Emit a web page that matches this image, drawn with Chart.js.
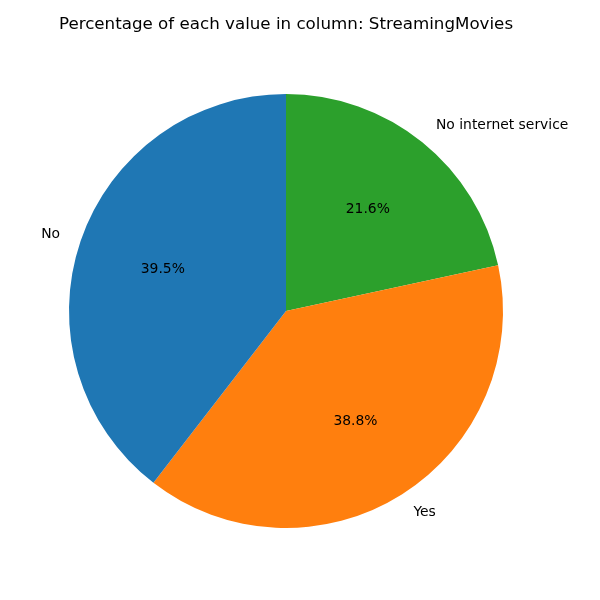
<!DOCTYPE html>
<html>
<head>
<meta charset="utf-8">
<script src="https://cdn.jsdelivr.net/npm/chart.js@4"></script>
<style>
  html, body { margin: 0; padding: 0; background: #fff; }
</style>
</head>
<body>
<canvas id="pie" width="600" height="600"></canvas>
<script>
// slices listed clockwise from 12 o'clock (matplotlib drew them counter-clockwise)
const categories = ["No internet service", "Yes", "No"];
const percents = [21.6, 38.8, 39.5];
const sliceColors = ["#2ca02c", "#ff7f0e", "#1f77b4"];
const chartTitle = "Percentage of each value in column: StreamingMovies";

const FONT = "'DejaVu Sans', sans-serif";

const pieText = {
  id: "pieText",
  afterDatasetsDraw(chart) {
    const ctx = chart.ctx;
    const meta = chart.getDatasetMeta(0);
    const total = percents.reduce((a, b) => a + b, 0);
    ctx.save();
    ctx.fillStyle = "#000";
    meta.data.forEach((arc, i) => {
      const mid = (arc.startAngle + arc.endAngle) / 2;
      const r = arc.outerRadius;
      const c = Math.cos(mid), s = Math.sin(mid);
      // category label at 1.1 r
      ctx.font = "13.9px " + FONT;
      ctx.textBaseline = "middle";
      ctx.textAlign = c > 0 ? "left" : "right";
      ctx.fillText(categories[i], arc.x + 1.1 * r * c, arc.y + 1.1 * r * s);
      // percentage at 0.6 r
      ctx.textAlign = "center";
      const pct = (percents[i] / total * 100).toFixed(1) + "%";
      ctx.fillText(pct, arc.x + 0.6 * r * c, arc.y + 0.6 * r * s);
    });
    // title
    ctx.font = "16.7px " + FONT;
    ctx.textAlign = "center";
    ctx.textBaseline = "middle";
    ctx.fillText(chartTitle, 286, 25);
    ctx.restore();
  }
};

new Chart(document.getElementById("pie").getContext("2d"), {
  type: "pie",
  data: {
    labels: categories,
    datasets: [{
      data: percents,
      backgroundColor: sliceColors,
      borderWidth: 0
    }]
  },
  options: {
    responsive: false,
    animation: false,
    devicePixelRatio: 1,
    layout: { padding: { left: 69, right: 97, top: 94, bottom: 72 } },
    plugins: {
      legend: { display: false },
      tooltip: { enabled: false },
      title: { display: false }
    }
  },
  plugins: [pieText]
});
</script>
</body>
</html>
